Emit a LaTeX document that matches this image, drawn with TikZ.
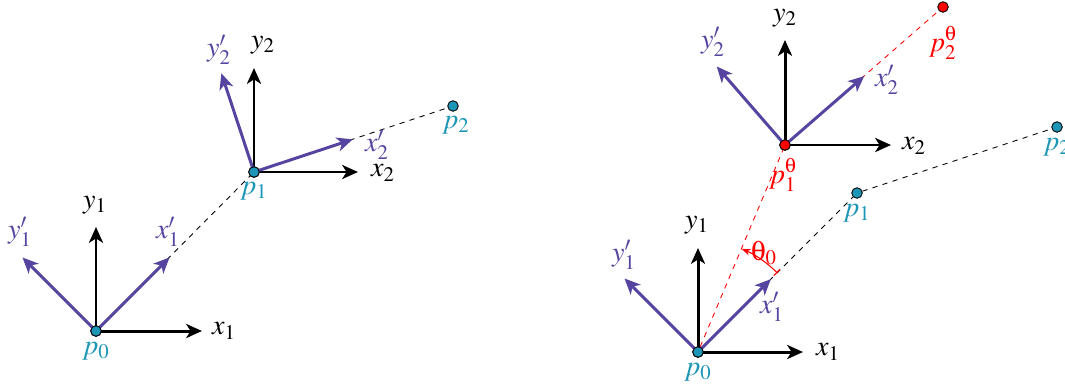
\documentclass[tikz,border=0pt]{standalone}
\usepackage{mathptmx}
\usepackage[Symbol]{upgreek}
\usepackage{xcolor}
\usepackage{tikz}
\usetikzlibrary{arrows.meta,positioning}
\definecolor{frame}{RGB}{86,68,160}
\definecolor{joint}{RGB}{28,150,182}

\begin{document}
\begin{tikzpicture}[x=0.02cm,y=0.02cm,font=\fontsize{16}{18}\selectfont,
  axis/.style={-{Stealth[length=9pt,width=8pt,inset=2.5pt]},line width=1.7pt},
  rot/.style={axis,draw=frame},
  link/.style={dashed,line width=0.5pt},
  dot/.style={circle,draw=black,line width=0.5pt,fill=joint,inner sep=0pt,minimum size=6pt}]
\useasboundingbox (0,0) rectangle (1065,387);

% left: chain in its own frames
\node[dot] (a0) at (96,56) {};
\node[dot] (a1) at (254,215) {};
\node[dot] (a2) at (453,281) {};
\draw[link] (a0) -- (a1) -- (a2);
\coordinate (ax1) at ([shift={(0:106)}]a0.center);
\coordinate (ay1) at ([shift={(90:104)}]a0.center);
\coordinate (au1) at ([shift={(45:104)}]a0.center);
\coordinate (av1) at ([shift={(135:104)}]a0.center);
\draw[axis] (a0.center) -- (ax1);
\draw[axis] (a0.center) -- (ay1);
\draw[rot] (a0.center) -- (au1);
\draw[rot] (a0.center) -- (av1);
\coordinate (ax2) at ([shift={(0:104)}]a1.center);
\coordinate (ay2) at ([shift={(90:104)}]a1.center);
\coordinate (au2) at ([shift={(18.3:104)}]a1.center);
\coordinate (av2) at ([shift={(108.3:104)}]a1.center);
\draw[axis] (a1.center) -- (ax2);
\draw[axis] (a1.center) -- (ay2);
\draw[rot] (a1.center) -- (au2);
\draw[rot] (a1.center) -- (av2);
\node[dot] at (a0) {};
\node[dot] at (a1) {};
\node (lx1) at (224,56) {$x_1$};
\node (ly1) at (95,182) {$y_1$};
\node[text=frame] (lu1) at (168,155) {$x'_1$};
\node[text=frame] (lv1) at (20,155) {$y'_1$};
\node (lx2) at (383,214) {$x_2$};
\node (ly2) at (263,342) {$y_2$};
\node[text=frame] (lu2) at (377,242) {$x'_2$};
\node[text=frame] (lv2) at (219,337) {$y'_2$};
\node[text=joint] (lp0) at (96,36) {$p_0$};
\node[text=joint] (lp1) at (254,196) {$p_1$};
\node[text=joint] (lp2) at (456,262) {$p_2$};

% right: chain rotated by theta_0
\node[dot] (b0) at (698,35) {};
\node[dot] (b1) at (857,194) {};
\node[dot] (b2) at (1057,260) {};
\node[dot,fill=red] (t1) at (785,242) {};
\node[dot,fill=red] (t2) at (943,380) {};
\draw[link] (b0) -- (b1) -- (b2);
\draw[link,red] (b0) -- (t1) -- (t2);
\coordinate (bx1) at ([shift={(0:105)}]b0.center);
\coordinate (by1) at ([shift={(90:104)}]b0.center);
\coordinate (bu1) at ([shift={(45:103)}]b0.center);
\coordinate (bv1) at ([shift={(135:104)}]b0.center);
\draw[axis] (b0.center) -- (bx1);
\draw[axis] (b0.center) -- (by1);
\draw[rot] (b0.center) -- (bu1);
\draw[rot] (b0.center) -- (bv1);
\coordinate (bx2) at ([shift={(0:106)}]t1.center);
\coordinate (by2) at ([shift={(90:105)}]t1.center);
\coordinate (bu2) at ([shift={(41:105)}]t1.center);
\coordinate (bv2) at ([shift={(131:104)}]t1.center);
\draw[axis] (t1.center) -- (bx2);
\draw[axis] (t1.center) -- (by2);
\draw[rot] (t1.center) -- (bu2);
\draw[rot] (t1.center) -- (bv2);
\draw[red,line width=0.6pt,{Bar[width=5pt]}-{Stealth[length=5pt]}]
  ([shift={(45:112)}]b0.center) arc (45:67:112);
\node[dot] at (b0) {};
\node[dot,fill=red] at (t1) {};
\node (mx1) at (828,35) {$x_1$};
\node (my1) at (697,162) {$y_1$};
\node[text=frame] (mu1) at (772,80) {$x'_1$};
\node[text=frame] (mv1) at (624,132) {$y'_1$};
\node (mx2) at (914,241) {$x_2$};
\node (my2) at (785,369) {$y_2$};
\node[text=frame] (mu2) at (887,307) {$x'_2$};
\node[text=frame] (mv2) at (713,345) {$y'_2$};
\node[text=joint] (mp0) at (698,15) {$p_0$};
\node[text=joint] (mp1) at (857,174) {$p_1$};
\node[text=joint] (mp2) at (1057,240) {$p_2$};
\node[text=red] (mt1) at (783,212) {$p_1^\uptheta$};
\node[text=red] (mt2) at (943,344) {$p_2^\uptheta$};
\node[text=red] (th0) at (764,134) {$\uptheta_0$};
\end{tikzpicture}
\end{document}
